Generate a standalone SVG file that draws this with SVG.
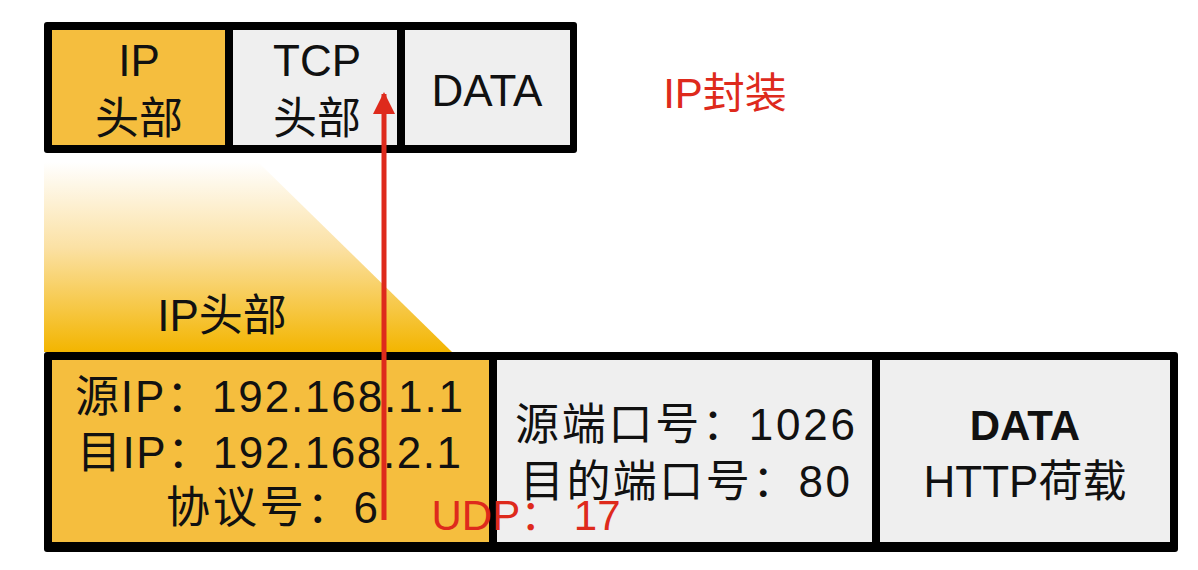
<svg xmlns="http://www.w3.org/2000/svg" width="1198" height="570" viewBox="0 0 1198 570">
<defs>
<linearGradient id="fade" x1="0" y1="0" x2="0" y2="1">
<stop offset="0" stop-color="#ffffff"/>
<stop offset="0.45" stop-color="#fbe1a4"/>
<stop offset="1" stop-color="#f3b500"/>
</linearGradient>
<marker id="arr" markerWidth="22" markerHeight="22" refX="20" refY="11" orient="auto" markerUnits="userSpaceOnUse" viewBox="0 0 22 22">
<path d="M0,0 L22,11 L0,22 z" fill="#de2a1c"/>
</marker>
</defs>
<style>
text{font-family:"Liberation Sans","Noto Sans CJK SC",sans-serif;fill:#111;text-anchor:middle}
.frame{fill:#000}
.org{fill:#f5be3e}
.gry{fill:#efefef}
.red{fill:#de2a1c}
.t42{font-size:42px}
.t44{font-size:44px}
</style>
<rect width="1198" height="570" fill="#ffffff"/>
<polygon points="44,162 258,162 452,352 44,352" fill="url(#fade)"/>
<g id="top-bar">
<rect class="frame" x="44" y="22" width="533" height="131" rx="3"/>
<g id="top-ip"><rect class="org" x="52" y="30" width="173" height="115"/><text class="t44" x="139" y="76">IP</text><text class="t44" x="139" y="134">头部</text></g>
<g id="top-tcp"><rect class="gry" x="233" y="30" width="164" height="115"/><text class="t44" x="317" y="76">TCP</text><text class="t44" x="317" y="134">头部</text></g>
<g id="top-data"><rect class="gry" x="405" y="30" width="165" height="115"/><text class="t44" x="487" y="106">DATA</text></g>
</g>
<g id="ip-header-label"><text class="t44" x="222" y="331">IP头部</text></g>
<g id="bottom-bar">
<rect class="frame" x="44" y="352" width="1134" height="200" rx="3"/>
<g id="ip-fields"><rect class="org" x="52" y="360" width="437" height="182"/>
<text class="t44" x="269" y="412" textLength="388" lengthAdjust="spacing">源IP：192.168.1.1</text>
<text class="t44" x="269" y="468" textLength="384" lengthAdjust="spacing">目IP：192.168.2.1</text>
<text class="t44" x="272" y="523" textLength="212" lengthAdjust="spacing">协议号：6</text></g>
<g id="tcp-fields"><rect class="gry" x="497" y="360" width="375" height="182"/>
<text class="t44" x="685" y="440" textLength="340" lengthAdjust="spacing">源端口号：1026</text>
<text class="t44" x="685" y="497" textLength="330" lengthAdjust="spacing">目的端口号：80</text></g>
<g id="data-fields"><rect class="gry" x="880" y="360" width="290" height="182"/>
<text class="t42" x="1025" y="440" font-weight="bold">DATA</text>
<text class="t44" x="1025" y="497">HTTP荷载</text></g>
</g>
<g id="connectors">
<line x1="384" y1="520" x2="384" y2="94" stroke="#de2a1c" stroke-width="5" marker-end="url(#arr)"/>
</g>
<g id="annotations">
<text class="red t42" x="725" y="108">IP封装</text>
<text class="red t42" x="526" y="530">UDP： 17</text>
</g>
</svg>
